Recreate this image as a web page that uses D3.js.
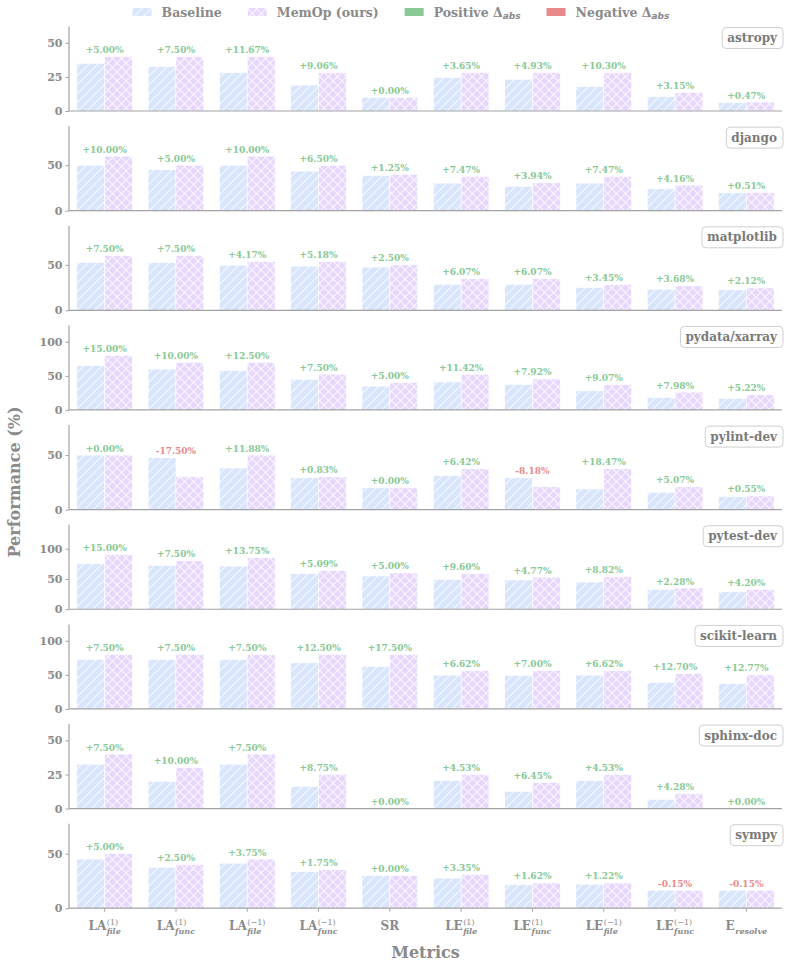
<!DOCTYPE html>
<html>
<head>
<meta charset="utf-8">
<script src="https://cdn.jsdelivr.net/npm/d3@7"></script>
<style>
  body { margin: 0; background: #fff; }
  text { font-family: "DejaVu Serif", serif; }
</style>
</head>
<body>
<div id="chart-area"></div>
<script>
// metric tick labels: main part, superscript, subscript
let metricMain = ["LA", "LA", "LA", "LA", "SR", "LE", "LE", "LE", "LE", "E"];
let metricSup = ["(1)", "(1)", "(\u22121)", "(\u22121)", "", "(1)", "(1)", "(\u22121)", "(\u22121)", ""];
let metricSub = ["file", "func", "file", "func", "", "file", "func", "file", "func", "resolve"];

let repos = ["astropy", "django", "matplotlib", "pydata/xarray", "pylint-dev",
             "pytest-dev", "scikit-learn", "sphinx-doc", "sympy"];

// baseline / MemOp values and reported deltas, one set per repo
let astropyBase = [35, 32.5, 28.33, 19.0, 10, 24.6, 23.3, 17.9, 10.5, 6.1];
let astropyOurs = [40, 40, 40, 28.06, 10, 28.25, 28.23, 28.2, 13.65, 6.57];
let astropyDelta = [5.00, 7.50, 11.67, 9.06, 0.00, 3.65, 4.93, 10.30, 3.15, 0.47];

let djangoBase = [50, 45, 50, 43.5, 38.75, 30.3, 26.7, 30.3, 24.0, 19.6];
let djangoOurs = [60, 50, 60, 50, 40, 37.77, 30.64, 37.77, 28.16, 20.11];
let djangoDelta = [10.00, 5.00, 10.00, 6.50, 1.25, 7.47, 3.94, 7.47, 4.16, 0.51];

let matplotlibBase = [52.5, 52.5, 49.58, 48.57, 47.5, 28.6, 28.6, 25.0, 23.2, 22.5];
let matplotlibOurs = [60, 60, 53.75, 53.75, 50, 34.67, 34.67, 28.45, 26.88, 24.62];
let matplotlibDelta = [7.50, 7.50, 4.17, 5.18, 2.50, 6.07, 6.07, 3.45, 3.68, 2.12];

let xarrayBase = [65, 60, 57.5, 45, 35, 41.1, 37.6, 28.0, 18.2, 17.0];
let xarrayOurs = [80, 70, 70, 52.5, 40, 52.5, 45.5, 37.07, 26.18, 22.22];
let xarrayDelta = [15.00, 10.00, 12.50, 7.50, 5.00, 11.42, 7.92, 9.07, 7.98, 5.22];

let pylintBase = [50, 47.5, 38.12, 29.17, 20, 31.0, 29.1, 18.95, 15.85, 12.0];
let pylintOurs = [50, 30, 50, 30, 20, 37.42, 20.92, 37.42, 20.92, 12.55];
let pylintDelta = [0.00, -17.50, 11.88, 0.83, 0.00, 6.42, -8.18, 18.47, 5.07, 0.55];

let pytestBase = [75, 72.5, 71.25, 58.8, 55, 49.4, 48.3, 45.0, 32.8, 28.75];
let pytestOurs = [90, 80, 85, 63.89, 60, 59.0, 53.07, 53.82, 35.08, 32.95];
let pytestDelta = [15.00, 7.50, 13.75, 5.09, 5.00, 9.60, 4.77, 8.82, 2.28, 4.20];

let sklearnBase = [72.5, 72.5, 72.5, 67.5, 62.5, 49.5, 49.12, 49.5, 39.0, 37.0];
let sklearnOurs = [80, 80, 80, 80, 80, 56.12, 56.12, 56.12, 51.7, 49.77];
let sklearnDelta = [7.50, 7.50, 7.50, 12.50, 17.50, 6.62, 7.00, 6.62, 12.70, 12.77];

let sphinxBase = [32.5, 20, 32.5, 16.25, 0, 20.47, 12.65, 20.47, 6.75, 0];
let sphinxOurs = [40, 30, 40, 25, 0, 25, 19.1, 25, 11.03, 0];
let sphinxDelta = [7.50, 10.00, 7.50, 8.75, 0.00, 4.53, 6.45, 4.53, 4.28, 0.00];

let sympyBase = [45, 37.5, 41.25, 33.5, 30, 27.6, 21.5, 21.9, 16.5, 16.5];
let sympyOurs = [50, 40, 45, 35.25, 30, 30.95, 23.12, 23.12, 16.35, 16.35];
let sympyDelta = [5.00, 2.50, 3.75, 1.75, 0.00, 3.35, 1.62, 1.22, -0.15, -0.15];

let yTicks = [[0, 25, 50], [0, 50], [0, 50], [0, 50, 100], [0, 50],
              [0, 50, 100], [0, 50, 100], [0, 25, 50], [0, 50]];

let panels = [
    {base: astropyBase, ours: astropyOurs, delta: astropyDelta},
    {base: djangoBase, ours: djangoOurs, delta: djangoDelta},
    {base: matplotlibBase, ours: matplotlibOurs, delta: matplotlibDelta},
    {base: xarrayBase, ours: xarrayOurs, delta: xarrayDelta},
    {base: pylintBase, ours: pylintOurs, delta: pylintDelta},
    {base: pytestBase, ours: pytestOurs, delta: pytestDelta},
    {base: sklearnBase, ours: sklearnOurs, delta: sklearnDelta},
    {base: sphinxBase, ours: sphinxOurs, delta: sphinxDelta},
    {base: sympyBase, ours: sympyOurs, delta: sympyDelta}
];

let W = 790, H = 964;
let left = 69, right = 782;
let firstTop = 26.5, panelH = 84.5, pitch = 99.65;
let barW = 0.39;

let baseColor = "#d8e5fd", oursColor = "#e7d6fd";
let posColor = "#88c995", negColor = "#e88a8a";
let textGrey = "#8a8a8a", axisGrey = "#a3a3a3";

let svg = d3.select("#chart-area")
    .append("svg")
    .attr("width", W)
    .attr("height", H);

// hatch patterns
let defs = svg.append("defs");
function makeHatch(id, color, cross) {
    let p = defs.append("pattern")
        .attr("id", id)
        .attr("patternUnits", "userSpaceOnUse")
        .attr("width", 9).attr("height", 9);
    p.append("rect").attr("width", 9).attr("height", 9).attr("fill", color);
    let st = {stroke: "#fff", "stroke-width": 1.1, "stroke-opacity": 0.75};
    let lines = [[0, 9, 9, 0], [-1, 1, 1, -1], [8, 10, 10, 8]];
    if (cross) lines = lines.concat([[0, 0, 9, 9], [-1, 8, 1, 10], [8, -1, 10, 1]]);
    lines.forEach(l => {
        let ln = p.append("line").attr("x1", l[0]).attr("y1", l[1]).attr("x2", l[2]).attr("y2", l[3]);
        Object.keys(st).forEach(k => ln.attr(k, st[k]));
    });
}
makeHatch("hatchBase", baseColor, false);
makeHatch("hatchOurs", oursColor, true);

let x = d3.scaleLinear().domain([-0.5, 9.5]).range([left, right]);

panels.forEach(function(p, i) {
    let top = firstTop + i * pitch;
    let bottom = top + panelH;
    let maxVal = d3.max(p.base.concat(p.ours));
    let y = d3.scaleLinear().domain([0, maxVal * 1.55]).range([bottom, top]);

    let g = svg.append("g");

    // bars
    g.selectAll("rect.base")
        .data(p.base)
        .enter().append("rect")
        .attr("class", "base")
        .attr("x", (d, j) => x(j - barW))
        .attr("width", x(barW) - x(0))
        .attr("y", d => y(d))
        .attr("height", d => y(0) - y(d))
        .attr("fill", "url(#hatchBase)")
        .attr("stroke", "#fff")
        .attr("stroke-width", 0.6);

    g.selectAll("rect.ours")
        .data(p.ours)
        .enter().append("rect")
        .attr("class", "ours")
        .attr("x", (d, j) => x(j))
        .attr("width", x(barW) - x(0))
        .attr("y", d => y(d))
        .attr("height", d => y(0) - y(d))
        .attr("fill", "url(#hatchOurs)")
        .attr("stroke", "#fff")
        .attr("stroke-width", 0.6);

    // delta labels
    g.selectAll("text.delta")
        .data(p.delta)
        .enter().append("text")
        .attr("class", "delta")
        .attr("x", (d, j) => x(j))
        .attr("y", (d, j) => y(Math.max(p.base[j], p.ours[j])) - 3.5)
        .attr("text-anchor", "middle")
        .attr("font-size", "9px")
        .attr("font-weight", "bold")
        .attr("fill", d => d < 0 ? negColor : posColor)
        .text(d => (d < 0 ? "" : "+") + d.toFixed(2) + "%");

    // y axis
    let yAxis = d3.axisLeft(y).tickValues(yTicks[i]).tickSize(3.5).tickPadding(3);
    let ya = g.append("g")
        .attr("transform", "translate(" + left + ",0)")
        .call(yAxis);
    ya.select(".domain").attr("stroke", axisGrey).attr("stroke-width", 1.2)
        .attr("d", "M0," + top + "V" + bottom);
    ya.selectAll(".tick line").attr("stroke", axisGrey).attr("stroke-width", 1);
    ya.selectAll(".tick text")
        .attr("fill", textGrey)
        .attr("font-size", "11px")
        .attr("font-weight", "bold")
        .attr("font-family", "DejaVu Serif");

    // bottom spine
    g.append("line")
        .attr("x1", left).attr("x2", right)
        .attr("y1", bottom).attr("y2", bottom)
        .attr("stroke", axisGrey)
        .attr("stroke-width", 1.2);

    // repo label box
    let lbl = g.append("g");
    let lt = lbl.append("text")
        .attr("font-size", "12px")
        .attr("font-weight", "bold")
        .attr("fill", "#7a7a7a")
        .attr("text-anchor", "end")
        .attr("x", right - 5)
        .attr("y", top + 15.5)
        .text(repos[i]);
    let tw = lt.node().getComputedTextLength();
    lbl.insert("rect", "text")
        .attr("x", right - tw - 10)
        .attr("y", top + 1)
        .attr("width", tw + 11)
        .attr("height", 21)
        .attr("rx", 4)
        .attr("fill", "#fff")
        .attr("stroke", "#cfcfcf")
        .attr("stroke-width", 1);

    // x tick labels on the last panel
    if (i === panels.length - 1) {
        metricMain.forEach(function(m, j) {
            g.append("line")
                .attr("x1", x(j)).attr("x2", x(j))
                .attr("y1", bottom).attr("y2", bottom + 3.5)
                .attr("stroke", axisGrey);
            let tg = g.append("g");
            let mt = tg.append("text")
                .attr("x", 0).attr("y", bottom + 22)
                .attr("font-size", "12px")
                .attr("font-weight", "bold")
                .attr("fill", textGrey)
                .text(m);
            let mw = mt.node().getComputedTextLength();
            let extra = 0;
            if (metricSup[j]) {
                let s = tg.append("text")
                    .attr("x", mw + 0.5).attr("y", bottom + 16.5)
                    .attr("font-family", "DejaVu Sans")
                    .attr("font-size", "8px")
                    .attr("fill", textGrey)
                    .text(metricSup[j]);
                extra = Math.max(extra, s.node().getComputedTextLength());
            }
            if (metricSub[j]) {
                let s = tg.append("text")
                    .attr("x", mw + 0.5).attr("y", bottom + 26)
                    .attr("font-family", "DejaVu Sans")
                    .attr("font-style", "italic")
                    .attr("font-weight", "bold")
                    .attr("font-size", "8px")
                    .attr("fill", textGrey)
                    .text(metricSub[j]);
                extra = Math.max(extra, s.node().getComputedTextLength());
            }
            let total = mw + (extra ? extra + 0.5 : 0);
            tg.attr("transform", "translate(" + (x(j) - total / 2) + ",0)");
        });
    }
});

// axis titles
svg.append("text")
    .attr("x", (left + right) / 2)
    .attr("y", 958)
    .attr("text-anchor", "middle")
    .attr("font-size", "16px")
    .attr("font-weight", "bold")
    .attr("fill", textGrey)
    .text("Metrics");

svg.append("text")
    .attr("transform", "translate(20," + (H / 2) + ") rotate(-90)")
    .attr("text-anchor", "middle")
    .attr("font-size", "16px")
    .attr("font-weight", "bold")
    .attr("fill", textGrey)
    .text("Performance (%)");

// legend
let legendItems = [
    {label: "Baseline", fill: "url(#hatchBase)"},
    {label: "MemOp (ours)", fill: "url(#hatchOurs)"},
    {label: "Positive \u0394", sub: "abs", fill: posColor},
    {label: "Negative \u0394", sub: "abs", fill: negColor}
];
let legend = svg.append("g");
let lx = 0;
legendItems.forEach(function(item) {
    let ig = legend.append("g").attr("transform", "translate(" + lx + ",0)");
    ig.append("rect")
        .attr("x", 0).attr("y", 8)
        .attr("width", 19).attr("height", 8)
        .attr("fill", item.fill);
    let t = ig.append("text")
        .attr("x", 29).attr("y", 16.5)
        .attr("font-size", "12.5px")
        .attr("font-weight", "bold")
        .attr("fill", textGrey)
        .text(item.label);
    if (item.sub) {
        t.append("tspan")
            .attr("dy", 2.5)
            .attr("font-family", "DejaVu Sans")
            .attr("font-style", "italic")
            .attr("font-size", "9px")
            .text(item.sub);
    }
    lx += 29 + t.node().getComputedTextLength() + 26;
});
legend.attr("transform", "translate(" + (401 - (lx - 26) / 2) + ",0)");
</script>
</body>
</html>
